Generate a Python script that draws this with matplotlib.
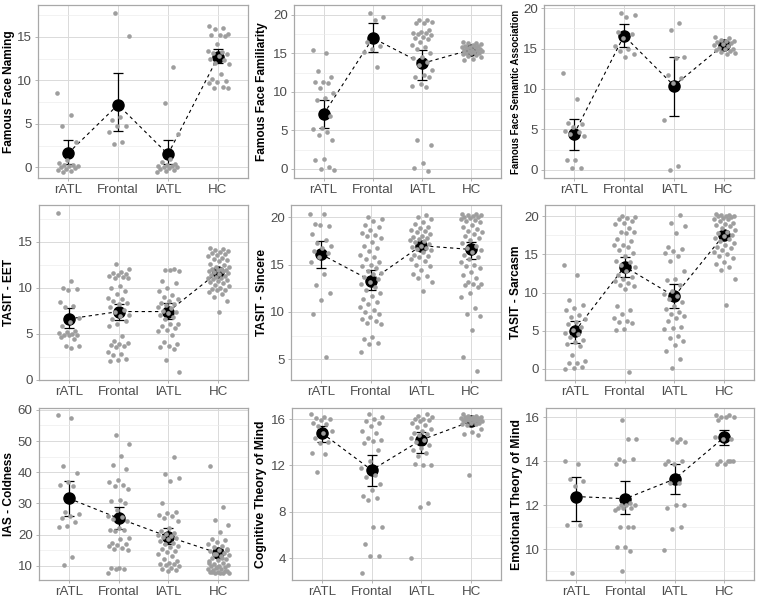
#!/usr/bin/env python3
"""Jittered individual scores with group means +/- SE, 3x3 panels."""

import matplotlib
matplotlib.use('Agg')
import matplotlib.pyplot as plt
from matplotlib.ticker import MultipleLocator, FixedLocator

plt.rcParams.update({
    'font.family': ['Liberation Sans', 'DejaVu Sans'],
    'font.size': 10,
})

GROUPS = ['rATL', 'Frontal', 'lATL', 'HC']

# ---- Famous Face Naming
naming_pts = [
    [8.6, 6.0, 4.8, 2.9, 0.8, 0.5, 0.3, 0.3, 0.2, 0.1, 0.0, -0.1, -0.2, -0.3, -0.4, -0.5],
    [17.8, 15.1, 5.8, 5.5, 4.8, 4.7, 4.1, 2.9, 2.7],
    [11.6, 7.4, 3.8, 1.0, 0.6, 0.4, 0.3, 0.2, 0.1, 0.0, 0.0, -0.1, -0.2, -0.3, -0.4, -0.5],
    [16.3, 16.0, 15.9, 15.4, 15.2, 15.2, 15.1, 14.2, 13.4, 13.3, 13.2, 13.0, 12.8, 12.5,
     12.3, 12.0, 11.9, 10.7, 10.2, 9.9, 9.8, 9.7, 9.2, 9.1, 9.1],
]
naming_mean = [1.6, 7.2, 1.5, 12.7]
naming_lo = [0.4, 4.2, 0.4, 12.0]
naming_hi = [3.1, 10.8, 3.2, 13.6]

# ---- Famous Face Familiarity
famil_pts = [
    [15.4, 15.0, 12.7, 12.0, 11.3, 11.3, 11.2, 10.5, 9.8, 9.2, 9.0, 6.8, 5.3, 5.2, 4.8,
     4.4, 3.7, 1.3, 1.1, 0.2, 0.0, -0.2],
    [20.2, 19.8, 19.4, 16.5, 16.0, 15.6, 15.2, 13.2],
    [19.4, 19.3, 19.1, 19.0, 18.9, 18.0, 17.8, 17.7, 17.6, 17.5, 17.4, 17.2, 17.0, 16.9,
     16.5, 16.1, 15.9, 15.6, 15.0, 14.6, 14.4, 13.9, 13.5, 12.9, 12.2, 12.0, 11.9, 11.0,
     10.8, 10.6, 3.8, 3.1, 0.7, 0.1, -0.3],
    [16.5, 16.4, 16.3, 16.2, 16.1, 16.0, 16.0, 15.9, 15.8, 15.8, 15.7, 15.6, 15.5, 15.5,
     15.4, 15.3, 15.3, 15.2, 15.1, 15.0, 15.0, 14.9, 14.8, 14.7, 14.5, 14.3, 14.2],
]
famil_mean = [7.1, 17.0, 13.7, 15.5]
famil_lo = [5.3, 15.2, 11.5, 15.2]
famil_hi = [8.9, 19.0, 15.4, 15.8]

# ---- Famous Face Semantic Association
semant_pts = [
    [12.0, 8.8, 5.8, 5.6, 5.3, 4.8, 4.7, 4.4, 4.2, 1.2, 1.2, 0.2, 0.2],
    [19.4, 19.2, 18.9, 17.0, 16.8, 16.3, 15.3, 14.9, 14.7, 14.3, 14.0],
    [18.2, 17.3, 13.9, 13.8, 11.7, 11.4, 10.7, 6.1, 0.4, 0.0],
    [16.4, 16.3, 16.1, 16.0, 15.9, 15.8, 15.7, 15.6, 15.5, 15.3, 15.1, 15.0, 14.9, 14.8,
     14.7, 14.6, 14.4, 14.3],
]
semant_mean = [4.4, 16.6, 10.4, 15.5]
semant_lo = [2.5, 15.2, 6.6, 15.2]
semant_hi = [6.3, 18.0, 13.9, 15.8]

# ---- TASIT - EET
eet_pts = [
    [18.1, 10.7, 10.0, 9.9, 9.8, 8.4, 8.0, 7.9, 6.7, 6.3, 5.8, 5.3, 5.2, 5.1, 5.0, 4.9,
     4.9, 4.8, 4.6, 4.4, 3.7, 3.6, 3.4],
    [12.6, 12.0, 11.7, 11.6, 11.5, 11.4, 11.3, 11.2, 11.1, 11.0, 10.2, 10.0, 9.6, 9.3,
     8.9, 8.8, 8.5, 8.3, 8.2, 7.9, 7.6, 7.3, 7.0, 6.9, 6.6, 6.4, 6.1, 5.8, 4.7, 4.2, 4.0,
     3.9, 3.8, 3.7, 3.5, 3.0, 2.8, 2.7, 2.2, 2.1, 2.0],
    [12.0, 11.9, 11.8, 11.9, 10.7, 10.5, 10.0, 9.6, 9.2, 9.0, 8.8, 8.5, 8.3, 8.2, 8.1,
     7.9, 7.8, 7.5, 7.3, 7.2, 7.0, 6.8, 6.6, 6.1, 6.0, 5.8, 5.6, 5.4, 5.3, 4.8, 4.1, 3.9,
     3.7, 3.5, 3.3, 2.1, 0.8],
    [14.3, 14.2, 14.1, 14.0, 13.9, 13.8, 13.7, 13.6, 13.4, 13.2, 13.1, 13.0, 12.9, 12.6,
     12.5, 12.3, 12.2, 12.0, 12.0, 11.9, 11.9, 11.8, 11.8, 11.7, 11.6, 11.5, 11.4, 11.3,
     11.2, 11.1, 11.0, 10.9, 10.8, 10.7, 10.6, 10.5, 10.3, 10.2, 10.0, 9.9, 9.8, 9.7,
     9.5, 9.3, 9.0, 8.6, 7.4],
]
eet_mean = [6.6, 7.4, 7.4, 11.7]
eet_lo = [5.6, 6.5, 6.6, 11.4]
eet_hi = [7.8, 8.2, 8.3, 12.0]

# ---- TASIT - Sincere
sinc_pts = [
    [20.4, 20.4, 19.3, 19.1, 19.2, 18.2, 17.6, 17.3, 17.0, 16.8, 16.4, 16.2, 15.8, 15.3,
     14.0, 12.8, 12.0, 11.3, 9.8, 5.2],
    [20.0, 19.8, 19.6, 19.2, 19.0, 18.7, 18.3, 18.1, 18.0, 17.8, 17.4, 17.0, 16.8, 16.4,
     16.0, 15.8, 15.6, 15.3, 15.0, 14.8, 14.6, 14.3, 14.1, 14.0, 13.7, 13.5, 13.2, 12.9,
     12.6, 12.3, 12.0, 11.7, 11.4, 11.0, 10.8, 10.5, 10.2, 10.0, 9.8, 9.5, 9.2, 9.0, 8.8,
     8.7, 7.3, 7.1, 6.7, 6.6, 5.8],
    [20.2, 20.0, 19.8, 19.5, 19.3, 19.0, 18.9, 18.7, 18.6, 18.4, 18.2, 18.0, 17.9, 17.8,
     17.7, 17.6, 17.5, 17.4, 17.2, 17.0, 16.9, 16.8, 16.7, 16.5, 16.3, 16.0, 15.9, 15.8,
     15.6, 15.4, 15.0, 14.8, 14.4, 14.0, 13.8, 13.6, 13.2, 12.2],
    [20.3, 20.3, 20.2, 20.2, 20.1, 20.0, 20.0, 19.9, 19.8, 19.7, 19.6, 19.5, 19.2, 19.0,
     18.8, 18.6, 18.4, 18.2, 18.0, 17.8, 17.6, 17.3, 17.0, 16.8, 16.5, 16.3, 16.0, 15.8,
     15.6, 15.3, 15.0, 14.8, 14.6, 14.2, 13.9, 13.6, 13.2, 13.0, 12.9, 12.8, 12.6, 12.0,
     11.6, 10.4, 9.8, 9.6, 8.1, 5.2, 3.7],
]
sinc_mean = [16.1, 13.3, 17.0, 16.6]
sinc_lo = [14.6, 12.3, 16.5, 15.6]
sinc_hi = [17.5, 14.4, 17.4, 17.4]

# ---- TASIT - Sarcasm
sarc_pts = [
    [13.6, 12.3, 9.0, 8.3, 8.0, 7.7, 7.0, 6.8, 6.5, 6.1, 5.8, 5.5, 5.1, 4.7, 4.5, 4.2,
     3.8, 3.5, 3.2, 3.0, 1.8, 1.0, 0.8, 0.7, 0.2, 0.1, 0.0],
    [20.0, 19.9, 19.8, 19.6, 19.4, 19.2, 19.0, 18.5, 18.0, 18.0, 17.8, 17.0, 16.8, 16.3,
     16.2, 16.0, 15.6, 15.2, 14.8, 14.2, 14.0, 13.6, 13.3, 12.8, 12.3, 12.0, 11.8, 11.5,
     11.3, 11.0, 10.8, 10.5, 8.2, 7.7, 7.2, 6.6, 6.3, 6.1, 6.0, 5.2, 5.1, -0.4],
    [20.2, 19.2, 18.8, 17.8, 16.0, 15.7, 15.4, 15.2, 14.8, 14.2, 12.8, 11.8, 11.6, 11.0,
     10.2, 9.8, 9.6, 9.2, 8.8, 8.2, 7.8, 7.5, 7.2, 6.9, 6.6, 6.3, 5.5, 5.3, 5.2, 4.3,
     4.0, 3.6, 3.1, 2.3, 1.3, 0.1],
    [20.3, 20.2, 20.2, 20.1, 20.0, 20.0, 19.9, 19.8, 19.7, 19.6, 19.4, 19.2, 19.0, 18.9,
     18.7, 18.5, 18.2, 18.0, 17.8, 17.6, 17.4, 17.2, 17.0, 16.8, 16.5, 16.2, 16.0, 15.8,
     15.6, 15.3, 15.0, 14.8, 14.5, 14.0, 13.8, 13.4, 12.9, 11.8, 8.3],
]
sarc_mean = [4.9, 13.4, 9.5, 17.6]
sarc_lo = [3.4, 12.1, 7.9, 17.1]
sarc_hi = [6.2, 14.7, 11.1, 18.1]

# ---- IAS - Coldness
cold_pts = [
    [58.2, 57.4, 42.0, 39.8, 37.0, 36.0, 35.7, 27.1, 26.6, 26.0, 25.4, 24.0, 22.8, 22.4,
     12.8, 10.3],
    [52.0, 49.0, 45.2, 42.2, 41.0, 37.6, 37.0, 35.8, 35.6, 34.5, 31.2, 30.9, 30.0, 28.0,
     26.0, 25.5, 25.0, 24.2, 22.0, 21.6, 21.3, 21.0, 19.0, 18.6, 17.4, 17.0, 16.7, 16.2,
     15.8, 15.4, 15.0, 9.4, 9.1, 8.9, 8.8, 7.8],
    [44.8, 39.4, 38.2, 37.1, 30.0, 27.3, 26.8, 26.2, 25.8, 25.2, 24.3, 22.1, 21.0, 20.6,
     20.3, 19.8, 19.5, 19.2, 18.8, 18.4, 17.8, 17.2, 16.8, 16.3, 15.9, 15.4, 14.8, 14.3,
     13.8, 13.0, 12.2, 11.6, 11.0, 10.6, 10.4, 10.2, 9.8, 9.4, 9.0, 8.6, 8.2],
    [42.1, 28.8, 24.8, 22.9, 20.8, 18.6, 18.2, 17.6, 17.0, 16.3, 15.9, 15.4, 15.0, 14.6,
     14.2, 13.8, 13.4, 13.0, 12.6, 12.2, 11.8, 11.4, 11.0, 10.6, 10.3, 10.0, 9.8, 9.5,
     9.2, 9.0, 8.8, 8.5, 8.3, 8.1, 7.9, 7.8, 7.7, 7.6, 7.5, 7.9, 8.2, 9.6, 10.8, 12.4,
     13.6, 14.9],
]
cold_mean = [31.6, 25.2, 19.3, 14.0]
cold_lo = [26.1, 21.7, 17.0, 12.8]
cold_hi = [37.3, 28.9, 22.1, 15.2]

# ---- Cognitive Theory of Mind
cog_pts = [
    [16.4, 16.2, 16.1, 16.0, 15.9, 15.7, 15.6, 15.4, 15.0, 14.8, 14.4, 14.0, 13.9, 13.1,
     13.0, 11.4],
    [16.4, 16.2, 16.0, 15.8, 15.7, 15.4, 15.0, 14.8, 14.4, 14.2, 14.1, 13.9, 13.3, 12.4,
     11.8, 11.2, 11.0, 10.4, 9.9, 9.4, 9.2, 9.0, 6.7, 6.7, 5.2, 4.2, 4.2, 2.7],
    [16.4, 16.3, 16.2, 16.0, 16.0, 15.9, 15.8, 15.7, 15.5, 15.3, 15.1, 15.0, 14.8, 14.7,
     14.6, 14.4, 14.2, 14.0, 13.8, 13.5, 13.3, 13.1, 12.8, 12.0, 12.0, 12.1, 8.8, 8.4, 4.0],
    [16.4, 16.3, 16.3, 16.2, 16.2, 16.2, 16.1, 16.1, 16.1, 16.0, 16.0, 16.0, 16.0, 15.9,
     15.9, 15.9, 15.8, 15.8, 15.8, 15.7, 15.7, 15.6, 15.6, 15.5, 15.1, 14.9, 14.7, 14.6,
     11.2],
]
cog_mean = [14.8, 11.6, 14.2, 15.8]
cog_lo = [14.0, 10.2, 13.1, 15.65]
cog_hi = [15.4, 12.9, 14.9, 15.95]

# ---- Emotional Theory of Mind
emo_pts = [
    [14.0, 13.9, 13.2, 13.1, 12.9, 11.1, 11.1, 8.9],
    [15.9, 15.0, 15.0, 14.1, 14.1, 14.0, 13.9, 12.1, 12.0, 12.0, 12.0, 11.9, 11.9, 11.9,
     11.8, 11.0, 11.0, 11.0, 10.1, 10.1, 9.9, 9.0],
    [15.0, 15.0, 14.9, 14.9, 14.0, 14.0, 13.9, 13.9, 13.0, 13.0, 12.0, 12.0, 11.9, 11.0,
     10.9, 9.96],
    [16.1, 16.1, 16.0, 16.0, 16.0, 15.9, 15.0, 15.0, 15.1, 14.0, 14.0, 14.0, 13.9, 13.9,
     14.0],
]
emo_mean = [12.4, 12.3, 13.2, 15.1]
emo_lo = [11.3, 11.6, 12.5, 14.75]
emo_hi = [13.3, 13.1, 13.9, 15.45]

# label, points, mean, lo, hi, ylim, yticks, axes box (left, top, right, bottom px),
# label centre x px, label fontsize
PANELS = [
    ('Famous Face Naming', naming_pts, naming_mean, naming_lo, naming_hi,
     (-1.23, 18.68), [0, 5, 10, 15], (38, 5, 248, 178), 10, 8.6),
    ('Famous Face Familiarity', famil_pts, famil_mean, famil_lo, famil_hi,
     (-1.2, 21.3), [0, 5, 10, 15, 20], (294, 5, 501, 178), 263, 8.6),
    ('Famous Face Semantic Association', semant_pts, semant_mean, semant_lo, semant_hi,
     (-1.03, 20.4), [0, 5, 10, 15, 20], (544, 5, 754, 178), 516, 6.9),
    ('TASIT - EET', eet_pts, eet_mean, eet_lo, eet_hi,
     (-0.05, 19.0), [0, 5, 10, 15], (39, 205, 248, 380), 10, 8.6),
    ('TASIT - Sincere', sinc_pts, sinc_mean, sinc_lo, sinc_hi,
     (2.8, 21.3), [5, 10, 15, 20], (291, 205, 501, 380), 263, 8.6),
    ('TASIT - Sarcasm', sarc_pts, sarc_mean, sarc_lo, sarc_hi,
     (-1.5, 21.5), [0, 5, 10, 15, 20], (545, 205, 754, 380), 517, 8.6),
    ('IAS - Coldness', cold_pts, cold_mean, cold_lo, cold_hi,
     (5.4, 60.6), [10, 20, 30, 40, 50, 60], (39, 408, 248, 580), 10, 8.6),
    ('Cognitive Theory of Mind', cog_pts, cog_mean, cog_lo, cog_hi,
     (2.13, 16.95), [4, 8, 12, 16], (292, 408, 501, 580), 262, 8.8),
    ('Emotional Theory of Mind', emo_pts, emo_mean, emo_lo, emo_hi,
     (8.6, 16.43), [10, 12, 14, 16], (546, 408, 754, 580), 518, 8.8),
]

W, H = 760, 603
POINT_COLOR = '#9E9E9E'
GRID_MAJOR = '#DADADA'
GRID_MINOR = '#EBEBEB'
BORDER = '#A8A8A8'


def jitter(n, k):
    # deterministic spread within +/-0.22 of the category position
    return [((i * 0.6180339887 + k * 0.37) % 1.0 - 0.5) * 0.44 for i in range(n)]


fig = plt.figure(figsize=(W / 100, H / 100), dpi=100)

for label, pts, mean, lo, hi, ylim, yticks, box, lab_x, lab_fs in PANELS:
    l, t, r, b = box
    ax = fig.add_axes([l / W, 1 - b / H, (r - l) / W, (b - t) / H])
    xs = range(1, len(GROUPS) + 1)

    ax.plot(xs, mean, color='black', linestyle='--', dashes=(3, 3), linewidth=0.8, zorder=3)
    ax.errorbar(xs, mean,
                yerr=[[m - a for m, a in zip(mean, lo)], [c - m for m, c in zip(mean, hi)]],
                fmt='none', ecolor='black', elinewidth=0.9, capsize=3.6, capthick=0.9, zorder=3)
    ax.plot(xs, mean, 'o', color='black', markersize=8, zorder=4)

    for k, vals in enumerate(pts):
        offs = jitter(len(vals), k)
        ax.scatter([k + 1 + o for o in offs], vals, s=11, color=POINT_COLOR,
                   linewidths=0, zorder=5)

    ax.set_xlim(0.4, 4.6)
    ax.set_ylim(*ylim)
    ax.set_xticks(list(xs))
    ax.set_xticklabels(GROUPS)
    ax.yaxis.set_major_locator(FixedLocator(yticks))
    step = yticks[1] - yticks[0]
    ax.yaxis.set_minor_locator(MultipleLocator(step / 2))
    ax.grid(True, which='major', color=GRID_MAJOR, linewidth=0.7, zorder=0)
    ax.yaxis.grid(True, which='minor', color=GRID_MINOR, linewidth=0.45, zorder=0)
    ax.set_axisbelow(True)
    for sp in ax.spines.values():
        sp.set_color(BORDER)
        sp.set_linewidth(0.9)
    ax.tick_params(which='major', length=2.5, width=0.6, color=BORDER,
                   labelsize=9.6, labelcolor='#4D4D4D', pad=2)
    ax.tick_params(which='minor', length=0)

    ax.set_ylabel(label, fontsize=lab_fs, fontweight='bold', color='black')
    ax.yaxis.set_label_coords((lab_x + 5 - l) / (r - l), 0.5)

plt.savefig('out.png', dpi=100)
print("Saved out.png")
